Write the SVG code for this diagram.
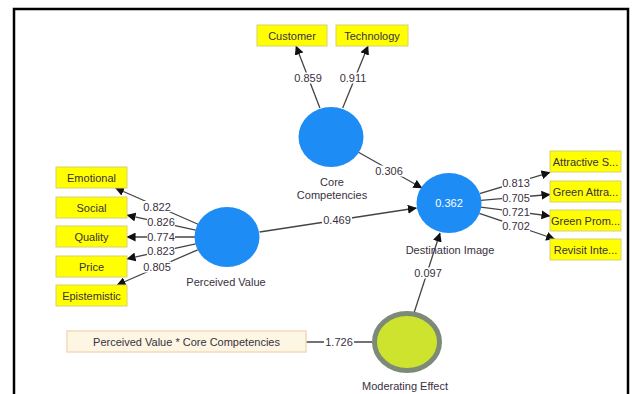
<svg xmlns="http://www.w3.org/2000/svg" width="637" height="394" viewBox="0 0 637 394">
<defs>
<marker id="ah" viewBox="0 0 10 10" refX="9.5" refY="5" markerWidth="9" markerHeight="9" markerUnits="userSpaceOnUse" orient="auto">
<path d="M0,0 L10,5 L0,10 z" fill="#111"/>
</marker>
<style>
text{font-family:"Liberation Sans",Arial,sans-serif;font-size:11px;fill:#3a3040;text-anchor:middle}
.ind rect{fill:#ffff00;stroke:#d8d070;stroke-width:1}
.lat{fill:#1e8cf5}
.conn line{stroke:#444;stroke-width:1.3;fill:none}
.conn line.a{marker-end:url(#ah)}
.bg{fill:#fff;stroke:none}
</style>
</defs>
<rect x="0" y="0" width="637" height="394" fill="#fff"/>
<path d="M14,394 V9 H628 V394" fill="none" stroke="#000" stroke-width="2.5"/>

<g id="connectors" class="conn">
<line class="a" x1="198.6" y1="224.5" x2="115.4" y2="188"/>
<line class="a" x1="195.7" y1="230.2" x2="127" y2="215.2"/>
<line class="a" x1="195" y1="237" x2="127" y2="237"/>
<line class="a" x1="195.7" y1="243.8" x2="127" y2="258.8"/>
<line class="a" x1="197.7" y1="249.8" x2="117" y2="285"/>
<line class="a" x1="479.6" y1="193.7" x2="550" y2="172.3"/>
<line class="a" x1="480.9" y1="200.3" x2="550" y2="194.5"/>
<line class="a" x1="480.7" y1="207.1" x2="550" y2="216"/>
<line class="a" x1="479.3" y1="213.3" x2="554.7" y2="239"/>
<line class="a" x1="319.9" y1="108" x2="296" y2="46"/>
<line class="a" x1="342.7" y1="108" x2="368" y2="46"/>
<line class="a" x1="358" y1="152" x2="422" y2="188"/>
<line class="a" x1="259.6" y1="232" x2="416.4" y2="208"/>
<line class="a" x1="414" y1="313" x2="440" y2="233"/>
<line x1="306" y1="342" x2="373" y2="342"/>
<rect class="bg" x="143" y="201" width="28" height="11"/><text x="157" y="210.5">0.822</text>
<rect class="bg" x="147" y="216.5" width="28" height="11"/><text x="161" y="226">0.826</text>
<rect class="bg" x="147" y="231.5" width="28" height="11"/><text x="161" y="241">0.774</text>
<rect class="bg" x="147" y="245.5" width="28" height="11"/><text x="161" y="255">0.823</text>
<rect class="bg" x="143" y="261.5" width="28" height="11"/><text x="157" y="271">0.805</text>
<rect class="bg" x="502" y="177.5" width="28" height="11"/><text x="516" y="187">0.813</text>
<rect class="bg" x="502" y="192.5" width="28" height="11"/><text x="516" y="202">0.705</text>
<rect class="bg" x="502" y="206.5" width="28" height="11"/><text x="516" y="216">0.721</text>
<rect class="bg" x="502" y="220.5" width="28" height="11"/><text x="516" y="230">0.702</text>
<rect class="bg" x="294" y="72.5" width="28" height="11"/><text x="308" y="82">0.859</text>
<rect class="bg" x="339" y="72.5" width="28" height="11"/><text x="353" y="82">0.911</text>
<rect class="bg" x="375" y="165.5" width="28" height="11"/><text x="389" y="175">0.306</text>
<rect class="bg" x="322" y="214.5" width="30" height="11"/><text x="337" y="224">0.469</text>
<rect class="bg" x="414" y="267.5" width="28" height="11"/><text x="428" y="277">0.097</text>
<rect class="bg" x="324" y="336.5" width="30" height="11"/><text x="339" y="346">1.726</text>
</g>

<g id="customer" class="ind"><rect x="257" y="25" width="70" height="21"/><text x="292" y="39.5">Customer</text></g>
<g id="technology" class="ind"><rect x="336" y="25" width="72" height="21"/><text x="372" y="39.5">Technology</text></g>

<g id="emotional" class="ind"><rect x="56" y="167" width="71" height="21"/><text x="91.5" y="181.5">Emotional</text></g>
<g id="social" class="ind"><rect x="56" y="197" width="71" height="21"/><text x="91.5" y="211.5">Social</text></g>
<g id="quality" class="ind"><rect x="56" y="226" width="71" height="21"/><text x="91.5" y="240.5">Quality</text></g>
<g id="price" class="ind"><rect x="56" y="256" width="71" height="21"/><text x="91.5" y="270.5">Price</text></g>
<g id="epistemistic" class="ind"><rect x="56" y="285" width="71" height="21"/><text x="91.5" y="299.5">Epistemistic</text></g>

<g id="attractive" class="ind"><rect x="550" y="151" width="71" height="21"/><text x="585.5" y="165.5">Attractive S...</text></g>
<g id="green-attra" class="ind"><rect x="550" y="181" width="71" height="21"/><text x="585.5" y="195.5">Green Attra...</text></g>
<g id="green-prom" class="ind"><rect x="550" y="210" width="71" height="21"/><text x="585.5" y="224.5">Green Prom...</text></g>
<g id="revisit" class="ind"><rect x="550" y="239" width="71" height="21"/><text x="585.5" y="253.5">Revisit Inte...</text></g>

<g id="core-competencies"><ellipse class="lat" cx="331" cy="137" rx="32.5" ry="30"/><text x="332" y="186">Core</text><text x="332" y="199">Competencies</text></g>
<g id="perceived-value"><ellipse class="lat" cx="227" cy="237" rx="32.5" ry="30"/><text x="226" y="286">Perceived Value</text></g>
<g id="destination-image"><ellipse class="lat" cx="449" cy="203" rx="32.5" ry="30"/><text x="449" y="207" style="fill:#fff">0.362</text><text x="450" y="254">Destination Image</text></g>
<g id="moderating-effect"><ellipse cx="407" cy="342" rx="32.5" ry="28.5" fill="#cde32e" stroke="#7d8a78" stroke-width="5"/><text x="405" y="390">Moderating Effect</text></g>
<g id="pv-cc"><rect x="67" y="331" width="239" height="21" fill="#fdf6e3" stroke="#f3d9bd" stroke-width="1.5"/><text x="186.5" y="345.5">Perceived Value * Core Competencies</text></g>
</svg>
